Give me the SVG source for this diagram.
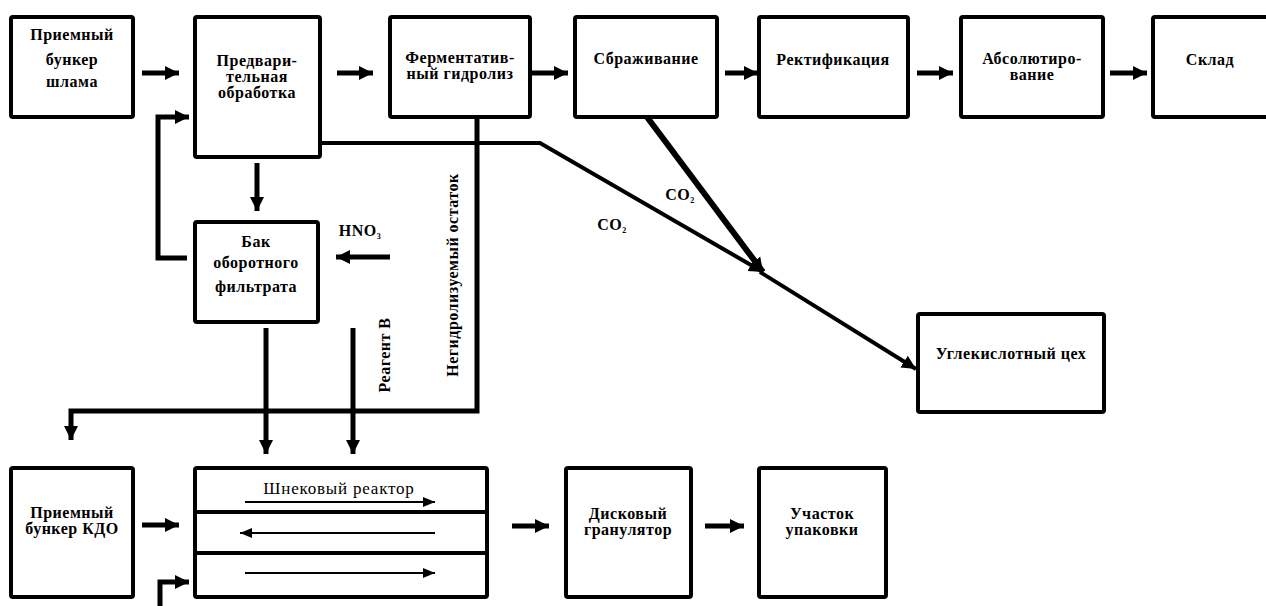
<svg xmlns="http://www.w3.org/2000/svg" width="1266" height="606" viewBox="0 0 1266 606">
<style>
.box{fill:#fff;stroke:#000;stroke-width:4;}
.t{font-family:"Liberation Serif","Times New Roman","DejaVu Serif",serif;font-weight:bold;font-size:16px;letter-spacing:0.5px;fill:#000;text-anchor:middle;}
.c{fill:none;stroke:#000;stroke-width:5;}
.thin{fill:none;stroke:#000;stroke-width:2;}
</style>
<defs>
<marker id="ah" markerUnits="userSpaceOnUse" markerWidth="16" markerHeight="16" refX="14" refY="8" orient="auto">
<path d="M0,1 L14,8 L0,15 Z" fill="#000"/>
</marker>
<marker id="as" markerUnits="userSpaceOnUse" markerWidth="12" markerHeight="10" refX="12" refY="5" orient="auto">
<path d="M0,0 L12,5 L0,10 Z" fill="#000"/>
</marker>
</defs>
<g id="n1"><rect class="box" x="11" y="17" width="122" height="100" rx="2"/><text class="t" x="72" y="40">Приемный</text><text class="t" x="72" y="65">бункер</text><text class="t" x="72" y="87">шлама</text></g>
<g id="n2"><rect class="box" x="195" y="17" width="125" height="140" rx="2"/><text class="t" x="257" y="66">Предвари-</text><text class="t" x="257" y="82">тельная</text><text class="t" x="257" y="98">обработка</text></g>
<g id="n3"><rect class="box" x="390" y="17" width="140" height="100" rx="2"/><text class="t" x="460" y="63">Ферментатив-</text><text class="t" x="460" y="79">ный гидролиз</text></g>
<g id="n4"><rect class="box" x="575" y="17" width="142" height="100" rx="2"/><text class="t" x="646" y="64">Сбраживание</text></g>
<g id="n5"><rect class="box" x="759" y="17" width="149" height="100" rx="2"/><text class="t" x="833" y="65">Ректификация</text></g>
<g id="n6"><rect class="box" x="961" y="17" width="142" height="100" rx="2"/><text class="t" x="1032" y="64">Абсолютиро-</text><text class="t" x="1032" y="80">вание</text></g>
<g id="n7"><rect class="box" x="1153" y="17" width="120" height="100" rx="2"/><text class="t" x="1210" y="65">Склад</text></g>
<g id="n8"><rect class="box" x="195" y="222" width="123" height="100" rx="2"/><text class="t" x="256" y="247">Бак</text><text class="t" x="256" y="268">оборотного</text><text class="t" x="256" y="292">фильтрата</text></g>
<g id="n9"><rect class="box" x="918" y="314" width="186" height="98" rx="2"/><text class="t" x="1011" y="359">Углекислотный цех</text></g>
<g id="n10"><rect class="box" x="11" y="468" width="122" height="129" rx="2"/><text class="t" x="72" y="518">Приемный</text><text class="t" x="72" y="534">бункер КДО</text></g>
<g id="n11"><rect class="box" x="195" y="468" width="292" height="129" rx="2"/><line x1="195" y1="512" x2="487" y2="512" stroke="#000" stroke-width="4"/><line x1="195" y1="553" x2="487" y2="553" stroke="#000" stroke-width="4"/><text class="t" x="339" y="494" style="font-weight:normal;font-size:17px;letter-spacing:0.8px">Шнековый реактор</text><line class="thin" x1="245" y1="502" x2="435" y2="502" marker-end="url(#as)"/><line class="thin" x1="435" y1="533" x2="240" y2="533" marker-end="url(#as)"/><line class="thin" x1="245" y1="573" x2="435" y2="573" marker-end="url(#as)"/></g>
<g id="n12"><rect class="box" x="566" y="468" width="125" height="129" rx="2"/><text class="t" x="628" y="519">Дисковый</text><text class="t" x="628" y="535">гранулятор</text></g>
<g id="n13"><rect class="box" x="759" y="468" width="127" height="129" rx="2"/><text class="t" x="822" y="519">Участок</text><text class="t" x="822" y="535">упаковки</text></g>
<g id="labels">
<text class="t" x="360" y="236">HNO<tspan font-size="8" dy="3">3</tspan></text>
<text class="t" x="680" y="200">CO<tspan font-size="8" dy="3">2</tspan></text>
<text class="t" x="612" y="230">CO<tspan font-size="8" dy="3">2</tspan></text>
<text class="t" transform="translate(458,275) rotate(-90)">Негидролизуемый остаток</text>
<text class="t" transform="translate(390,355) rotate(-90)">Реагент В</text>
</g>
<g id="connectors">
<line class="c" x1="142" y1="73" x2="179" y2="73" marker-end="url(#ah)"/>
<line class="c" x1="337" y1="73" x2="373" y2="73" marker-end="url(#ah)"/>
<line class="c" x1="532" y1="73" x2="568" y2="73" marker-end="url(#ah)"/>
<line class="c" x1="725" y1="73" x2="758" y2="73" marker-end="url(#ah)"/>
<line class="c" x1="917" y1="73" x2="953" y2="73" marker-end="url(#ah)"/>
<line class="c" x1="1110" y1="73" x2="1147" y2="73" marker-end="url(#ah)"/>
<path class="c" d="M187,258 L158,258 L158,117 L189,117" marker-end="url(#ah)"/>
<line class="c" x1="257" y1="163" x2="257" y2="211" marker-end="url(#ah)"/>
<line class="c" x1="390" y1="257" x2="336" y2="257" marker-end="url(#ah)"/>
<path class="c" d="M477,117 L477,411 L71,411 L71,440" marker-end="url(#ah)"/>
<line class="c" x1="266" y1="328" x2="266" y2="454" marker-end="url(#ah)"/>
<line class="c" x1="353" y1="328" x2="353" y2="454" marker-end="url(#ah)"/>
<path class="c" d="M320,143 L540,143 L763,272" marker-end="url(#ah)" style="stroke-width:4"/>
<line class="c" x1="647" y1="117" x2="763" y2="272" marker-end="url(#ah)" style="stroke-width:6"/>
<line class="c" x1="760" y1="272" x2="916" y2="369" marker-end="url(#ah)" style="stroke-width:4"/>
<line class="c" x1="142" y1="525" x2="179" y2="525" marker-end="url(#ah)"/>
<path class="c" d="M160,606 L160,582 L189,582" marker-end="url(#ah)"/>
<line class="c" x1="512" y1="526" x2="549" y2="526" marker-end="url(#ah)"/>
<line class="c" x1="705" y1="526" x2="744" y2="526" marker-end="url(#ah)"/>
</g>
</svg>
